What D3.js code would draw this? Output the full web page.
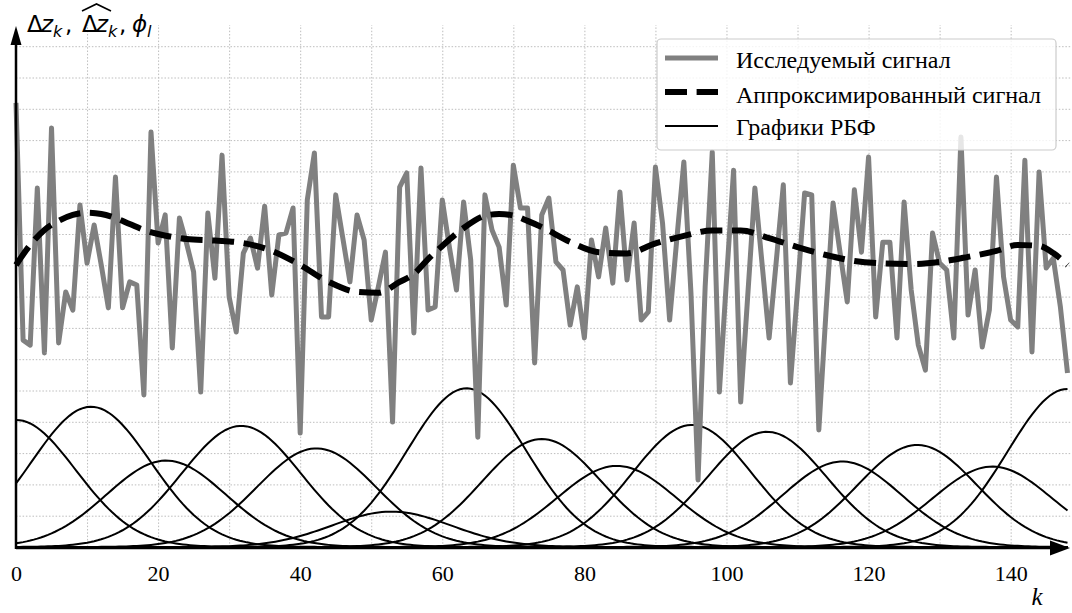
<!DOCTYPE html>
<html><head><meta charset="utf-8">
<script src="https://cdn.jsdelivr.net/npm/d3@7"></script>
<style>body{margin:0;background:#fff}</style>
</head><body>
<svg id="c" width="1072" height="613"></svg>
<script>
// ---- data ----
const signal = [
1.419,0.661,0.645,1.147,0.620,1.339,0.652,0.815,0.757,1.093,
0.907,1.029,0.901,0.764,1.182,0.764,0.847,0.837,0.486,1.326,
0.971,1.061,0.636,1.051,0.971,0.879,0.495,1.067,0.859,1.252,
0.799,0.687,0.939,0.987,0.891,1.089,0.805,0.997,1.003,1.083,
0.364,1.109,1.259,0.735,0.735,1.125,0.987,0.847,1.061,0.981,
0.725,0.831,0.942,0.399,1.150,1.195,0.684,1.211,0.757,0.767,
1.109,0.958,0.821,1.102,0.917,0.351,1.125,1.013,0.958,0.773,
1.220,1.083,1.083,0.588,1.061,1.115,0.911,0.885,0.709,0.831,
0.668,0.981,0.863,1.019,0.843,1.134,0.853,1.035,0.725,0.751,
1.214,1.035,0.725,0.981,1.230,0.812,0.214,0.831,1.262,0.495,
0.853,1.204,0.463,0.805,1.147,0.907,0.668,0.911,1.157,0.524,
0.821,1.131,1.125,0.374,0.748,1.099,0.939,0.783,1.141,0.942,
1.246,0.735,0.974,0.974,0.668,1.102,0.821,0.645,0.565,1.003,
0.907,0.885,0.668,1.310,0.741,0.885,0.639,0.757,1.182,0.863,
0.725,0.703,1.236,0.623,1.198,0.891,0.923,0.767,0.556
];
const approxK = [0,2,4,6,8,10,12,14,16,18,20,24,28,32,36,40,44,48,51,54,56,58,60,63,66,68,70,72,74,78,82,86,90,94,98,102,106,110,114,118,122,126,130,134,138,141,144,146,148];
const approxV = [0.901,0.965,1.013,1.042,1.061,1.068,1.064,1.051,1.032,1.013,1.000,0.984,0.979,0.971,0.946,0.901,0.847,0.815,0.812,0.847,0.872,0.920,0.962,1.019,1.058,1.064,1.059,1.042,1.022,0.975,0.942,0.938,0.970,0.994,1.011,1.011,0.987,0.958,0.933,0.914,0.906,0.904,0.911,0.927,0.946,0.965,0.962,0.939,0.901];
const rbfCenters = [0,10.57,21.14,31.71,42.29,52.86,63.43,74,84.57,95.14,105.71,116.29,126.86,137.43,148];
const rbfHeights = [0.406,0.448,0.276,0.387,0.315,0.113,0.507,0.345,0.259,0.390,0.368,0.273,0.326,0.257,0.505];
const rbfSigma = 8.4;
const xTickValues = [0,20,40,60,80,100,120,140];
const xGridValues = [10,20,30,40,50,60,70,80,90,100,110,120,130,140];
const yGridValues = [0.1,0.2,0.3,0.4,0.5,0.6,0.7,0.8,0.9,1.0,1.1,1.2,1.3,1.4,1.5,1.6];
const legendLabels = ["Исследуемый сигнал","Аппроксимированный сигнал","Графики РБФ"];

// ---- drawing ----
const svg = d3.select("#c");
const W = 1072, plotTop = 25, plotBottom = 547, plotLeft = 16;
const x = d3.scaleLinear().domain([0,148]).range([16,1067.5]);
const y = d3.scaleLinear().domain([0,1.6]).range([plotBottom,46.2]);

// grid
const gx = svg.append("g").attr("transform",`translate(0,${plotBottom})`)
  .call(d3.axisBottom(x).tickValues(xGridValues).tickSize(-(plotBottom-plotTop)).tickFormat(""));
const gy = svg.append("g").attr("transform",`translate(${plotLeft},0)`)
  .call(d3.axisLeft(y).tickValues(yGridValues).tickSize(-(W-plotLeft)).tickFormat(""));
[gx,gy].forEach(g=>{
  g.select(".domain").remove();
  g.selectAll("line").attr("stroke","#bdbdbd").attr("stroke-width",1).attr("stroke-dasharray","1.5,1.8");
});

// RBF curves
const kFine = d3.range(0,148.01,0.5);
const rbfLine = d3.line().x(d=>x(d[0])).y(d=>y(d[1]));
rbfCenters.forEach((c,i)=>{
  const pts = kFine.map(k=>[k, rbfHeights[i]*Math.exp(-((k-c)**2)/(2*rbfSigma*rbfSigma))]);
  svg.append("path").attr("d",rbfLine(pts)).attr("fill","none").attr("stroke","#000").attr("stroke-width",2);
});

// signal
svg.append("path").datum(signal)
  .attr("d",d3.line().x((d,i)=>x(i)).y(d=>y(d)))
  .attr("fill","none").attr("stroke","#808080").attr("stroke-width",5).attr("stroke-linejoin","round");

// approximation
svg.append("path").datum(approxK.map((k,i)=>[k,approxV[i]]))
  .attr("d",d3.line().curve(d3.curveMonotoneX).x(d=>x(d[0])).y(d=>y(d[1])))
  .attr("fill","none").attr("stroke","#000").attr("stroke-width",6).attr("stroke-dasharray","22,9.6");

// axes with arrows
svg.append("line").attr("x1",plotLeft).attr("x2",1052).attr("y1",548).attr("y2",548).attr("stroke","#000").attr("stroke-width",2.5);
svg.append("path").attr("d","M1050,540.5L1070,548L1050,555.5Z").attr("fill","#000");
svg.append("line").attr("x1",plotLeft).attr("x2",plotLeft).attr("y1",549).attr("y2",42).attr("stroke","#000").attr("stroke-width",2.5);
svg.append("path").attr("d",`M${plotLeft-5.5},45L${plotLeft},26L${plotLeft+5.5},45Z`).attr("fill","#000");

// tick labels
const ax = svg.append("g").attr("transform",`translate(0,${plotBottom})`)
  .call(d3.axisBottom(x).tickValues(xTickValues).tickSize(0).tickPadding(18).tickFormat(d3.format("d")));
ax.select(".domain").remove();
ax.selectAll("text").attr("font-family","Liberation Serif").attr("font-size",22).attr("fill","#000");

// axis titles
svg.append("text").attr("x",1037).attr("y",605).attr("text-anchor","middle")
  .attr("font-family","Liberation Serif").attr("font-style","italic").attr("font-size",25).text("k");

const yl = svg.append("g").attr("font-family","DejaVu Sans").attr("fill","#000");
function t(xp,yp,s,size,it){ yl.append("text").attr("x",xp).attr("y",yp).attr("font-size",size).attr("font-style",it?"italic":"normal").text(s); }
t(27,32,"Δ",23,false); t(41,32,"z",23,true); t(53,37,"k",16,true); t(65,32,",",23,false);
t(82,32,"Δ",23,false); t(96,32,"z",23,true); t(108,37,"k",16,true); t(119,32,",",23,false);
t(132,32,"ϕ",23,true); t(147,37,"l",16,true);
yl.append("path").attr("d","M82,11L96.5,4L111,11").attr("fill","none").attr("stroke","#000").attr("stroke-width",1.6);

// legend
const lg = svg.append("g");
lg.append("rect").attr("x",657).attr("y",39).attr("width",399).attr("height",111).attr("rx",4)
  .attr("fill","#fff").attr("fill-opacity",0.8).attr("stroke","#cccccc").attr("stroke-width",1.2);
const rows = [{yb:67.7,ly:58},{yb:102.7,ly:92},{yb:135,ly:126}];
lg.append("line").attr("x1",665).attr("x2",718).attr("y1",rows[0].ly).attr("y2",rows[0].ly).attr("stroke","#808080").attr("stroke-width",5);
lg.append("line").attr("x1",665).attr("x2",718).attr("y1",rows[1].ly).attr("y2",rows[1].ly).attr("stroke","#000").attr("stroke-width",6).attr("stroke-dasharray","22,9.6");
lg.append("line").attr("x1",665).attr("x2",718).attr("y1",rows[2].ly).attr("y2",rows[2].ly).attr("stroke","#000").attr("stroke-width",2);
legendLabels.forEach((s,i)=>{
  lg.append("text").attr("x",736).attr("y",rows[i].yb).attr("font-family","Liberation Serif").attr("font-size",24).attr("fill","#000").text(s);
});
</script>
</body></html>
